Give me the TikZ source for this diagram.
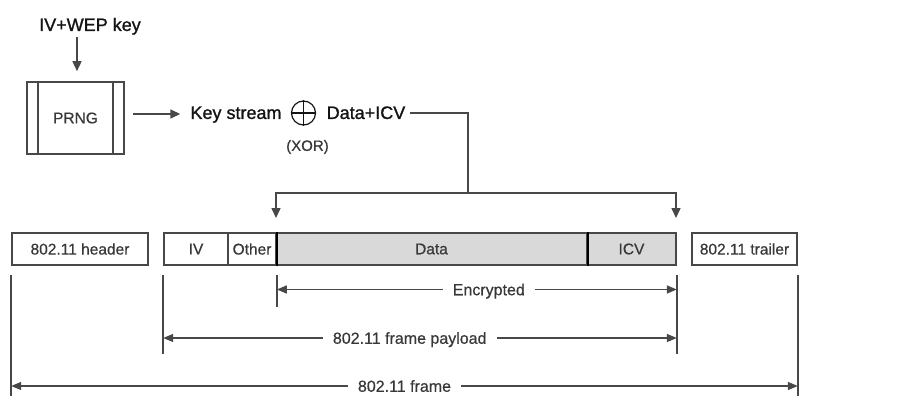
\documentclass[tikz,border=0pt]{standalone}
\usepackage{fontspec}
\setmainfont{Liberation Sans}
\newfontfamily\heavysans[FakeBold=1.2]{Liberation Sans}
\newfontfamily\midsans[FakeBold=0.5]{Liberation Sans}
\usetikzlibrary{arrows.meta,calc}
\definecolor{ink}{HTML}{141414}
\definecolor{lbl}{HTML}{383838}
\definecolor{edge}{HTML}{484848}
\definecolor{shade}{HTML}{D9D9D9}
\begin{document}
\begin{tikzpicture}[x=1pt,y=-1pt,
  wire/.style={draw=edge,line width=1.5pt},
  tip/.style={wire,-{Triangle[length=10pt,width=9pt]}},
  dim/.style={wire,{Triangle[length=10pt,width=8pt]}-{Triangle[length=10pt,width=8pt]}},
  field/.style={draw=edge,line width=1.6pt,minimum height=32pt,inner sep=0pt,
    font=\midsans\fontsize{15.5}{17}\selectfont,text=lbl},
  big/.style={font=\heavysans\fontsize{18}{20}\selectfont,text=ink,inner sep=3pt,
    text height=12.9pt,text depth=0pt},
  lab/.style={font=\midsans\fontsize{16}{18}\selectfont,text=lbl,fill=white,
    inner xsep=10pt,inner ysep=1pt,text height=11.5pt,text depth=0pt}]
\useasboundingbox[fill=white] (0,0) rectangle (922,396);

% key generation
\node[big] (ivkey) at (90,24.5) {IV+WEP key};
\node[draw=edge,line width=1.6pt,minimum width=97pt,minimum height=72pt,
  font=\midsans\fontsize{15.5}{17}\selectfont,text=lbl] (prng) at (75.5,118) {PRNG};
\draw[wire] ($(prng.north west)+(12,0)$) -- ($(prng.south west)+(12,0)$);
\draw[wire] ($(prng.north east)+(-12,0)$) -- ($(prng.south east)+(-12,0)$);
\draw[tip] ($(ivkey.south -| prng.north)+(1.5,3)$) -- ($(prng.north)+(1.5,-10)$);

% XOR of key stream with data
\node[big] (keys) at (236,112.5) {Key stream};
\node[circle,draw=ink,line width=1.2pt,minimum size=24pt,inner sep=0pt] (xor) at (303.5,113) {};
\draw[ink,line width=1.2pt] (xor.north) -- (xor.south) (xor.west) -- (xor.east);
\node[big] (dicv) at (366,112.5) {Data+ICV};
\node[font=\midsans\fontsize{15}{17}\selectfont,text=lbl] (xorlbl) at (307.5,147) {(XOR)};
\draw[tip] ($(prng.east)+(8,-4)$) -- ($(keys.west)+(-7,1.5)$);

% encrypted result routed down into the frame
\coordinate (split) at (468,193);
\coordinate (tipL) at (276,218);
\coordinate (tipR) at (676,218);
\draw[wire] ($(dicv.east)+(2,0.5)$) -| (split);
\draw[tip] (split) -| (tipL);
\draw[tip] (split) -| (tipR);

% frame fields
\node[field,minimum width=136pt] (hdr) at (80,249) {802.11 header};
\node[field,minimum width=64pt] (iv) at (196,249) {IV};
\node[field,minimum width=48pt] (oth) at (252,249) {Other};
\node[field,fill=shade,minimum width=311pt] (data) at (431.5,249) {Data};
\node[field,fill=shade,minimum width=89pt] (icv) at (631.5,249) {ICV};
\node[field,minimum width=105pt] (trl) at (744.5,249) {802.11 trailer};
\draw[black,line width=1.8pt] (oth.north east) -- (oth.south east);
\draw[black,line width=1.8pt] (data.north east) -- (data.south east);

% extension lines
\draw[wire] ([yshift=-9pt]hdr.south west) -- ++(0,122);
\draw[wire] ([yshift=-9pt]iv.south west) -- ++(0,79);
\draw[wire] ([yshift=-9pt]oth.south east) -- ++(0,32);
\draw[wire] ([yshift=-9pt]icv.south east) -- ++(0,79);
\draw[wire] ([yshift=-9pt]trl.south east) -- ++(0,122);

% dimension arrows
\draw[dim] (oth.south east |- 0,289.5) -- node[lab,pos=0.53] {Encrypted} (icv.south east |- 0,289.5);
\draw[dim] (iv.south west |- 0,338) -- node[lab,pos=0.48] {802.11 frame payload} (icv.south east |- 0,338);
\draw[dim] (hdr.south west |- 0,386) -- node[lab,pos=0.5] {802.11 frame} (trl.south east |- 0,386);
\end{tikzpicture}
\end{document}
